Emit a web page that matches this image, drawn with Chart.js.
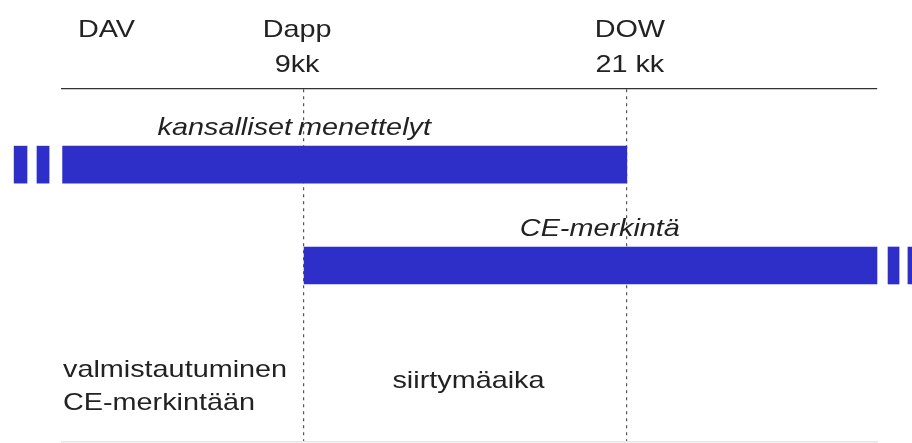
<!DOCTYPE html>
<html><head><meta charset="utf-8">
<script src="https://cdn.jsdelivr.net/npm/chart.js@4.4.1/dist/chart.umd.min.js"></script>
<style>html,body{margin:0;padding:0;background:#fff;}#wrap{width:912px;height:443px;position:relative;}</style>
</head><body><div id="wrap"><canvas id="c"></canvas></div>
<script>
// ---- data ----
const rows = ['', 'kansalliset menettelyt', '', 'CE-merkintä', '', '', ''];
const milestoneValues = [0, 9, 21];            // months from DAV
const milestoneLabels = [['DAV'], ['Dapp', '9kk'], ['DOW', '21 kk']];
const mainBars = [null, [0, 21], null, [9, 30.3], null, null, null];
const stubA = [null, [-1.78, -1.30], null, [30.71, 31.12], null, null, null];
const stubB = [null, [-0.93, -0.48], null, [31.45, 32.3], null, null, null];
const periodLabels = [['valmistautuminen', 'CE-merkintään'], ['siirtymäaika']];
const axisMin = 0, axisMax = 30.3;

const BLUE = '#2e2ec8';
const TEXT = '#222222';
const FONT = '"Liberation Sans", Arial, Helvetica, sans-serif';
const HSCALE = 1.2;

function drawText(ctx, str, x, y, align, italic) {
  ctx.save();
  ctx.font = (italic ? 'italic ' : '') + '24px ' + FONT;
  ctx.fillStyle = TEXT;
  ctx.textBaseline = 'alphabetic';
  const w = ctx.measureText(str).width * HSCALE;
  let left = x;
  if (align === 'center') left = x - w / 2;
  else if (align === 'right') left = x - w;
  ctx.translate(left, y);
  ctx.scale(HSCALE, 1);
  ctx.textAlign = 'left';
  ctx.fillText(str, 0, 0);
  ctx.restore();
}

const textPlugin = {
  id: 'texts',
  afterDraw(chart) {
    const ctx = chart.ctx;
    const x = chart.scales.x;
    const y = chart.scales.y;
    // milestone labels above the axis
    const p0 = x.getPixelForValue(milestoneValues[0]);
    drawText(ctx, milestoneLabels[0][0], p0 + 16, 37, 'left', false);
    for (let i = 1; i < milestoneValues.length; i++) {
      const p = x.getPixelForValue(milestoneValues[i]) + (i === 1 ? -7 : 3);
      milestoneLabels[i].forEach((s, j) => drawText(ctx, s, p, 37 + j * 35, 'center', false));
    }
    // bar captions
    const meta = chart.getDatasetMeta(0);
    const b1 = meta.data[1], b2 = meta.data[3];
    const pD = x.getPixelForValue(milestoneValues[1]);
    const pW = x.getPixelForValue(milestoneValues[2]);
    drawText(ctx, 'kansalliset', pD - 12, b1.y - b1.height / 2 - 11, 'right', true);
    drawText(ctx, 'menettelyt', pD - 6, b1.y - b1.height / 2 - 11, 'left', true);
    drawText(ctx, rows[3], pW - 27, b2.y - b2.height / 2 - 11, 'center', true);
    // period labels
    periodLabels[0].forEach((s, j) => drawText(ctx, s, x.left + 1, 377 + j * 33, 'left', false));
    drawText(ctx, periodLabels[1][0], (pD + pW) / 2 + 3, 388, 'center', false);
  }
};

const barCommon = { backgroundColor: BLUE, barThickness: 37, grouped: false, clip: false, borderWidth: 0 };

new Chart(document.getElementById('c'), {
  type: 'bar',
  data: {
    labels: rows,
    datasets: [
      Object.assign({ label: 'main', data: mainBars }, barCommon),
      Object.assign({ label: 'stubA', data: stubA }, barCommon),
      Object.assign({ label: 'stubB', data: stubB }, barCommon)
    ]
  },
  options: {
    indexAxis: 'y',
    responsive: true,
    maintainAspectRatio: false,
    animation: false,
    layout: { padding: { left: 62, right: 35, top: 89, bottom: 1 } },
    plugins: { legend: { display: false }, tooltip: { enabled: false } },
    scales: {
      x: {
        type: 'linear', position: 'top', min: axisMin, max: axisMax,
        afterBuildTicks(s) { s.ticks = milestoneValues.map(v => ({ value: v })); },
        afterFit(s) { s.height = 0; },
        ticks: { display: false },
        grid: {
          drawTicks: false,
          color: ctx => (ctx.tick && ctx.tick.value === 0) ? 'rgba(0,0,0,0)' : '#555',
          lineWidth: 1.2
        },
        border: { display: true, color: '#333', width: 1.3, dash: [3, 4] }
      },
      x2: {
        type: 'linear', position: 'bottom', min: axisMin, max: axisMax,
        afterFit(s) { s.height = 0; },
        ticks: { display: false },
        grid: { display: false },
        border: { display: true, color: '#e6e6e6', width: 1.5 }
      },
      y: {
        display: false
      }
    }
  },
  plugins: [textPlugin]
});
</script>
</body></html>
